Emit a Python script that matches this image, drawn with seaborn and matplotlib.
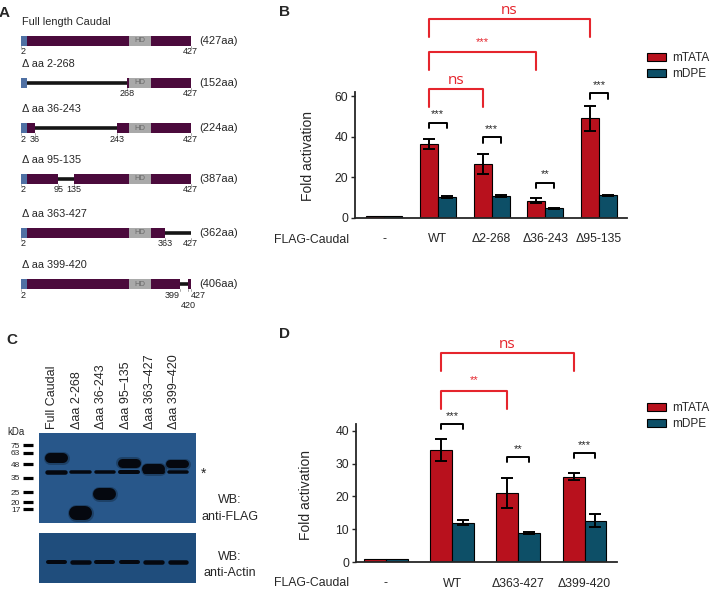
import numpy as np
import pandas as pd
import matplotlib
matplotlib.use('Agg')
import matplotlib.pyplot as plt
from matplotlib.patches import Rectangle
import seaborn as sns

sns.set_style('ticks')
plt.rcParams['font.family'] = ['Liberation Sans', 'DejaVu Sans']

W, H = 711, 594

# ---- panel A: deletion constructs ----
a_titles = ['Full length Caudal', 'Δ aa 2-268', 'Δ aa 36-243', 'Δ aa 95-135',
            'Δ aa 363-427', 'Δ aa 399-420']
a_del = [None, (2, 268), (36, 243), (95, 135), (363, 427), (399, 420)]
a_len = ['(427aa)', '(152aa)', '(224aa)', '(387aa)', '(362aa)', '(406aa)']
a_marks = [[2, 427], [268, 427], [2, 36, 243, 427], [2, 95, 135, 427],
           [2, 363, 427], [2, 399, 420, 427]]
tag_aa = (2, 17)
hd_aa = (272, 327)
full_aa = 427

# ---- panel B ----
b_groups = ['-', 'WT', 'Δ2-268', 'Δ36-243', 'Δ95-135']
b_tata = [1.0, 36.5, 26.5, 8.6, 49.0]
b_tata_err = [0.0, 2.6, 5.0, 1.3, 6.0]
b_dpe = [1.0, 10.3, 10.8, 4.7, 11.1]
b_dpe_err = [0.0, 0.5, 0.5, 0.4, 0.4]
b_stars = ['', '***', '***', '**', '***']
b_star_y = [0, 46.8, 39.7, 17.4, 61.4]
b_comp_to = ['Δ2-268', 'Δ36-243', 'Δ95-135']
b_comp_lab = ['ns', '***', 'ns']
b_comp_y = [63.3, 81.5, 97.9]

# ---- panel C: western blot ----
c_lanes = ['Full Caudal', 'Δaa 2-268', 'Δaa 36-243', 'Δaa 95–135',
           'Δaa 363–427', 'Δaa 399–420']
c_kda_marker = [75, 63, 48, 35, 25, 20, 17]
c_band_kda = [55.4, 15.6, 24.1, 49.3, 42.8, 48.5]
c_band_thick = [10, 14, 12, 9, 10, 8]
c_ns_kda = 40.5
c_ns_thick = [4.5, 3.5, 3.5, 4, 4, 3.5]
c_actin_thick = [4, 4.5, 4, 4, 4.5, 4.5]

# ---- panel D ----
d_groups = ['-', 'WT', 'Δ363-427', 'Δ399-420']
d_tata = [1.0, 34.0, 21.0, 26.0]
d_tata_err = [0.0, 3.3, 4.6, 1.1]
d_dpe = [1.0, 12.0, 8.9, 12.6]
d_dpe_err = [0.0, 0.7, 0.4, 2.0]
d_stars = ['', '***', '**', '***']
d_star_y = [0, 41.9, 31.9, 33.1]
d_comp_to = ['Δ363-427', 'Δ399-420']
d_comp_lab = ['**', 'ns']
d_comp_y = [52.1, 63.5]

RED = '#b8111d'
TEAL = '#0d4f67'
SIGRED = '#e5252d'
PURPLE = '#4b0a3c'
BLUE = '#4f70a3'
HDGREY = '#a9a9a9'


def rect(x0, y0, x1, y1):
    return [x0 / W, 1 - y1 / H, (x1 - x0) / W, (y1 - y0) / H]


fig = plt.figure(figsize=(W / 100, H / 100), dpi=100)

# panel letters
for lab, x, y in [('A', 4, 13), ('B', 284, 12), ('C', 12, 340), ('D', 284, 334)]:
    fig.text(x / W, 1 - y / H, lab, fontsize=11, fontweight='bold', ha='center', va='center')

# ================= panel A =================
axA = fig.add_axes(rect(0, 0, 240, 310))
px_per_aa = 169.7 / 425
x_min = 2 - 21 / px_per_aa
axA.set_xlim(x_min, x_min + 240 / px_per_aa)
axA.set_ylim(310, 0)
axA.axis('off')
row_y = [41, 83, 128, 179, 233, 284]
bh = 10
for i, y in enumerate(row_y):
    d = a_del[i]
    segs = [(tag_aa[1], full_aa)]
    if d is not None:
        lo, hi = max(d[0], tag_aa[1]), d[1]
        segs = [(a, b) for a, b in [(tag_aa[1], lo), (hi, full_aa)] if b - a > 0]
        axA.plot([lo, hi], [y, y], color='#151515', lw=2.6, solid_capstyle='butt', zorder=2)
    for a, b in segs:
        axA.add_patch(Rectangle((a, y - bh / 2), b - a, bh, color=PURPLE, zorder=3, lw=0))
    axA.add_patch(Rectangle((tag_aa[0], y - bh / 2), tag_aa[1] - tag_aa[0], bh,
                            color=BLUE, zorder=3, lw=0))
    axA.add_patch(Rectangle((hd_aa[0], y - bh / 2), hd_aa[1] - hd_aa[0], bh,
                            color=HDGREY, zorder=4, lw=0))
    axA.text((hd_aa[0] + hd_aa[1]) / 2, y, 'HD', color='#6a6a6a', fontsize=5.5,
             ha='center', va='center', zorder=5)
    axA.text(448, y, a_len[i], fontsize=8, va='center', ha='left')
    axA.text(4, y - 19, a_titles[i], fontsize=7.8, va='center', ha='left')
    for m in a_marks[i]:
        ha, dy = 'center', 11
        if i == 5 and m == 399:
            ha = 'right'
        if i == 5 and m == 427:
            ha = 'left'
        if i == 5 and m == 420:
            dy = 21
        if m == 2:
            ha = 'left'
        axA.plot([m, m], [y + 5, y + 7], color='#999999', lw=0.6)
        axA.text(m, y + dy, str(m), fontsize=6.5, ha=ha, va='center', color='#222222')


# ================= bar panels =================
def bar_panel(ax, groups, tata, tata_err, dpe, dpe_err, width, stars, star_y, leg,
              star_off, comp_to, comp_lab, comp_y, comp_leg, comp_off):
    df = pd.DataFrame({'construct': groups * 2,
                       'reporter': ['mTATA'] * len(groups) + ['mDPE'] * len(groups),
                       'fold': tata + dpe})
    sns.barplot(data=df, x='construct', y='fold', hue='reporter', palette=[RED, TEAL],
                width=width, edgecolor='black', linewidth=0.8, errorbar=None,
                saturation=1, ax=ax)
    conts = list(ax.containers)[:2]
    centers = []
    for cont, err in zip(conts, [tata_err, dpe_err]):
        xs = np.array([b.get_x() + b.get_width() / 2 for b in cont])
        hs = np.array([b.get_height() for b in cont])
        centers.append(xs)
        err = np.array(err)
        keep = err > 0
        ax.errorbar(xs[keep], hs[keep], yerr=err[keep], fmt='none', ecolor='black',
                    elinewidth=1.4, capsize=4, capthick=1.4, zorder=5)
    # black brackets mTATA vs mDPE
    for i, s in enumerate(stars):
        if not s:
            continue
        x0, x1, y = centers[0][i], centers[1][i], star_y[i]
        ax.plot([x0, x0, x1, x1], [y - leg, y, y, y - leg], color='black', lw=1.4,
                clip_on=False, zorder=6)
        ax.annotate(s, ((x0 + x1) / 2, y), xytext=(0, star_off), textcoords='offset points',
                    ha='center', va='center', fontsize=8, annotation_clip=False)
    # red brackets WT vs mutant
    gi = {g: k for k, g in enumerate(groups)}
    for tgt, lab, y in zip(comp_to, comp_lab, comp_y):
        x0, x1 = centers[0][gi['WT']], centers[0][gi[tgt]]
        ax.plot([x0, x0, x1, x1], [y - comp_leg, y, y, y - comp_leg], color=SIGRED, lw=1.5,
                clip_on=False)
        if lab == 'ns':
            ax.annotate(lab, ((x0 + x1) / 2, y), xytext=(0, comp_off), textcoords='offset points',
                        ha='center', va='baseline', fontsize=11, color=SIGRED,
                        family='Open Sans', annotation_clip=False)
        else:
            ax.annotate(lab, ((x0 + x1) / 2, y), xytext=(0, comp_off + 4), textcoords='offset points',
                        ha='center', va='center', fontsize=8, color=SIGRED,
                        annotation_clip=False)
    sns.despine(ax=ax)
    for sp in ['left', 'bottom']:
        ax.spines[sp].set_linewidth(1.3)
    ax.set_xlabel('')
    ax.set_ylabel('Fold activation', fontsize=10)
    ax.tick_params(axis='x', length=0, pad=11, labelsize=8.8)
    ax.tick_params(axis='y', length=3, width=1, pad=2, labelsize=8.8)


axB = fig.add_axes(rect(355, 92, 627, 218))
bar_panel(axB, b_groups, b_tata, b_tata_err, b_dpe, b_dpe_err, 0.67, b_stars, b_star_y,
          2.7, 6, b_comp_to, b_comp_lab, b_comp_y, 8.6, 3.5)
axB.set_xlim(-0.54, 4.52)
axB.set_ylim(0, 62)
axB.set_yticks([0, 20, 40, 60])
axB.yaxis.set_label_coords(-40 / 272, 0.49)
sns.move_legend(axB, 'upper left', bbox_to_anchor=((647 - 355) / 272, (218 - 52) / 126),
                title=None, frameon=False, fontsize=8.5, handlelength=1.6,
                handleheight=0.6, borderaxespad=0, borderpad=0, labelspacing=0.35,
                handletextpad=0.5)
fig.text(349 / W, 1 - 240 / H, 'FLAG-Caudal', fontsize=8.8, ha='right', va='center')

axD = fig.add_axes(rect(356, 424, 617, 562.3))
bar_panel(axD, d_groups, d_tata, d_tata_err, d_dpe, d_dpe_err, 0.66, d_stars, d_star_y,
          1.5, 6, d_comp_to, d_comp_lab, d_comp_y, 5.4, 3.5)
axD.set_xlim(-0.45, 3.49)
axD.set_ylim(0, 42)
axD.set_yticks([0, 10, 20, 30, 40])
axD.yaxis.set_label_coords(-43 / 261, 0.49)
sns.move_legend(axD, 'upper left', bbox_to_anchor=((647 - 356) / 261, (562.3 - 402) / 138.3),
                title=None, frameon=False, fontsize=8.5, handlelength=1.6,
                handleheight=0.6, borderaxespad=0, borderpad=0, labelspacing=0.35,
                handletextpad=0.5)
fig.text(349 / W, 1 - 583.5 / H, 'FLAG-Caudal', fontsize=8.8, ha='right', va='center')

# ================= panel C =================
axC = fig.add_axes(rect(39, 432.7, 196, 523.3))
axC.set_facecolor('#28578a')
axC.set_yscale('log')
axC.set_xlim(-0.7, 5.74)
axC.set_ylim(12.2, 100.4)
lane_px = 24.4
for i in range(len(c_lanes)):
    t = c_band_thick[i]
    half = (23 - t) / 2 / lane_px
    axC.plot([i - half, i + half], [c_band_kda[i]] * 2, color='black', lw=(t + 3) * 0.72,
             alpha=0.25, solid_capstyle='round')
    axC.plot([i - half, i + half], [c_band_kda[i]] * 2, color='#05080f', lw=t * 0.72,
             solid_capstyle='round')
    tn = c_ns_thick[i]
    halfn = (22 - tn) / 2 / lane_px
    axC.plot([i - halfn, i + halfn], [c_ns_kda] * 2, color='#05080f', lw=tn * 0.72,
             solid_capstyle='round')
axC.set_yticks(c_kda_marker)
axC.set_yticklabels([str(k) for k in c_kda_marker])
axC.yaxis.set_minor_locator(matplotlib.ticker.NullLocator())
axC.spines['left'].set_position(('outward', 4.3))
for sp in axC.spines.values():
    sp.set_visible(False)
axC.tick_params(axis='y', length=7.2, width=2.3, pad=2, labelsize=6, color='black')
for tl in axC.get_yticklabels():
    tl.set_family(['Liberation Sans Narrow', 'Liberation Sans'])
axC.set_xticks(np.arange(len(c_lanes)) - 0.15)
axC.set_xticklabels(c_lanes, rotation=90, fontsize=9)
axC.xaxis.tick_top()
axC.tick_params(axis='x', length=0, pad=3)
fig.text(7 / W, 1 - 431.7 / H, 'kDa', fontsize=7, ha='left', va='center')
fig.text(204 / W, 1 - 474 / H, '*', fontsize=10, ha='center', va='center')
fig.text(230 / W, 1 - 500 / H, 'WB:', fontsize=9, ha='center', va='center')
fig.text(230 / W, 1 - 516.7 / H, 'anti-FLAG', fontsize=9, ha='center', va='center')

axC2 = fig.add_axes(rect(39, 533.3, 196, 582.7))
axC2.set_facecolor('#1f4d7c')
axC2.set_xlim(-0.7, 5.74)
axC2.set_ylim(0, 1)
for i in range(len(c_lanes)):
    t = c_actin_thick[i]
    half = (21 - t) / 2 / lane_px
    axC2.plot([i - half, i + half], [0.41, 0.41], color='#05080f', lw=t * 0.72,
              solid_capstyle='round')
axC2.set_xticks([])
axC2.set_yticks([])
for sp in axC2.spines.values():
    sp.set_visible(False)
fig.text(230 / W, 1 - 556.7 / H, 'WB:', fontsize=9, ha='center', va='center')
fig.text(230 / W, 1 - 572.7 / H, 'anti-Actin', fontsize=9, ha='center', va='center')

fig.savefig('out.png', dpi=100)
